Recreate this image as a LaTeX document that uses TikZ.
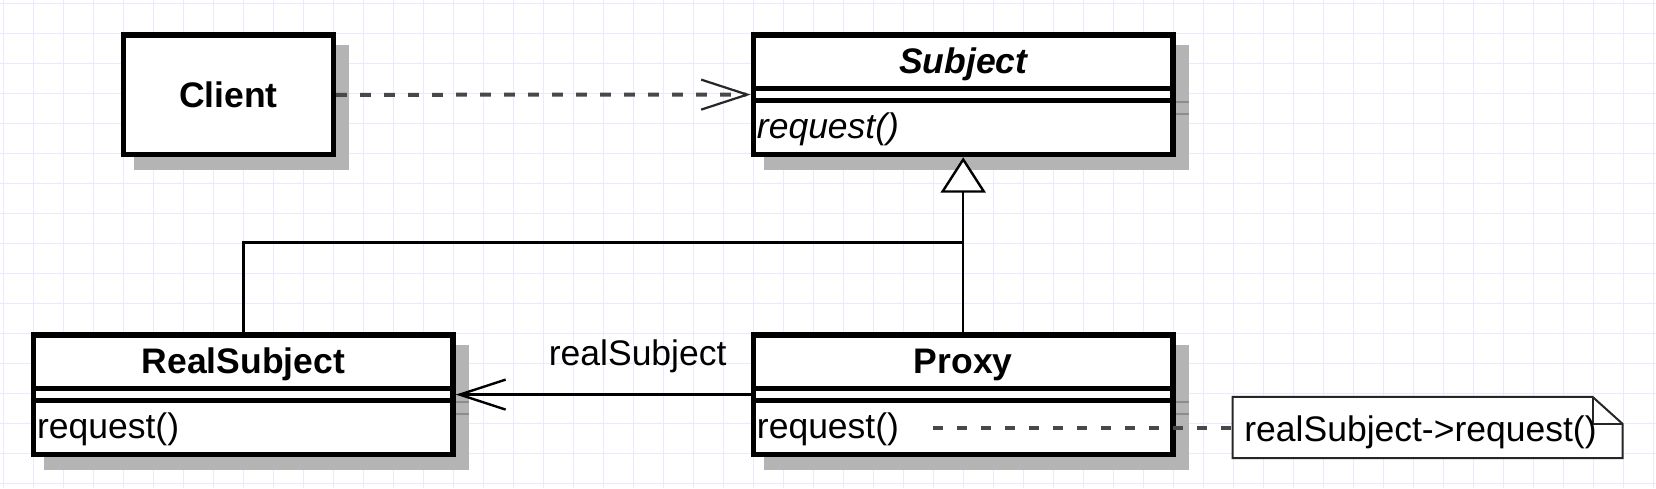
\documentclass[tikz,border=0pt]{standalone}
\usepackage{fontspec}
\setmainfont{Liberation Sans}
\usetikzlibrary{arrows.meta,backgrounds}

\definecolor{gridblue}{RGB}{234,234,252}
\definecolor{shadowgray}{RGB}{180,180,180}
\definecolor{stubgray}{RGB}{140,140,140}
\definecolor{dashgray}{RGB}{72,72,72}
\newcommand\umlsize{\fontsize{35.5}{42}\selectfont}

\tikzset{
  umlbox/.style={draw,line width=5.5pt,fill=white,inner sep=0pt,font=\umlsize},
  simplebox/.style={umlbox,minimum width=209.8pt,minimum height=119.5pt,font=\umlsize\bfseries,text height=25.3pt,text depth=0pt},
  namepart/.style={umlbox,minimum width=419.5pt,minimum height=53.7pt,font=\umlsize\bfseries,text height=22.4pt,text depth=0pt},
  attrpart/.style={umlbox,minimum width=419.5pt,minimum height=11.8pt},
  oppart/.style={umlbox,minimum width=419.5pt,minimum height=54pt,text width=412.5pt,inner xsep=3.5pt,align=left,text height=21pt,text depth=0pt},
  notebox/.style={inner ysep=0pt,inner xsep=11.7pt,minimum width=389.6pt,minimum height=61pt,text width=366.2pt,align=left,font=\umlsize,text height=27pt,text depth=0pt},
  notepen/.style={draw=black!85,line width=2pt},
  link/.style={line width=2.4pt},
  depend/.style={dashgray,line width=4pt,dash pattern=on 10.7pt off 13.3pt},
  shade/.style={fill=shadowgray},
  stub/.style={stubgray,line width=2pt},
  gridpen/.style={gridblue,line width=1.5pt}
}

\begin{document}
\begin{tikzpicture}[x=1pt,y=-1pt]
  \useasboundingbox (0,0) rectangle (1656,488);
  \begin{pgfonlayer}{background}
    \fill[white] (0,0) rectangle (1656,488);
    \foreach \gx in {3.5,33.5,...,1653.5} \draw[gridpen] (\gx,0) -- (\gx,488);
    \foreach \gy in {3.7,33.7,...,483.7} \draw[gridpen] (0,\gy) -- (1656,\gy);
  \end{pgfonlayer}

  \node[simplebox] (client) at (228.4,94.8) {Client};

  \node[namepart,font=\umlsize\bfseries\itshape] (subj) at (963.2,61.85) {Subject};
  \node[attrpart] (subjattr) at (963.2,94.6) {};
  \node[oppart,font=\umlsize\itshape] (subjops) at (963.2,127.5) {request()};

  \node[namepart] (real) at (243.3,361.85) {RealSubject};
  \node[attrpart] (realattr) at (243.3,394.6) {};
  \node[oppart] (realops) at (243.3,427.5) {request()};

  \node[namepart] (proxy) at (963.2,361.85) {Proxy};
  \node[attrpart] (proxyattr) at (963.2,394.6) {};
  \node[oppart] (proxyops) at (963.2,427.5) {request()};

  \node[notebox] (note) at (1427.5,427.5) {realSubject->request()};
  \coordinate (call) at (932.7,427.5);

  \begin{pgfonlayer}{background}
    \fill[shade] ([shift={(13,13)}]client.north west) rectangle ([shift={(13,13)}]client.south east);
    \foreach \cls in {subj,real,proxy} {
      \fill[shade] ([shift={(13,13)}]\cls.north west) rectangle ([shift={(13,13)}]\cls ops.south east);
      \draw[stub] ([shift={(0,15.75)}]\cls attr.north east) -- ++(13,0);
      \draw[stub] ([shift={(0,10.25)}]\cls attr.south east) -- ++(13,0);
    }
    \draw[notepen,fill=white] (note.north west) -- ([xshift=-30pt]note.north east)
      -- ([yshift=-27pt]note.north east) -- (note.south east) -- (note.south west) -- cycle;
    \draw[notepen] ([xshift=-30pt]note.north east) |- ([yshift=-27pt]note.north east);
  \end{pgfonlayer}

  \draw[depend,-{Straight Barb[length=46pt,width=30pt,color=black!85,line width=2.2pt]}] (client.east) -- (subjattr.west);
  \draw[link,-{Straight Barb[length=46pt,width=30pt]}] (proxyattr.west) -- (realattr.east)
    node[pos=0,anchor=base east,inner sep=0pt,xshift=-23pt,yshift=29.6pt,font=\umlsize] (role) {realSubject};
  \draw[link,-{Triangle[length=35.4pt,width=45pt,fill=white]}] (proxy.north) -- (subjops.south);
  \draw[link] (real.north) -- ++(0,-89.7) -| (proxy.north);
  \draw[depend] (call) -- (note.west);
\end{tikzpicture}
\end{document}
